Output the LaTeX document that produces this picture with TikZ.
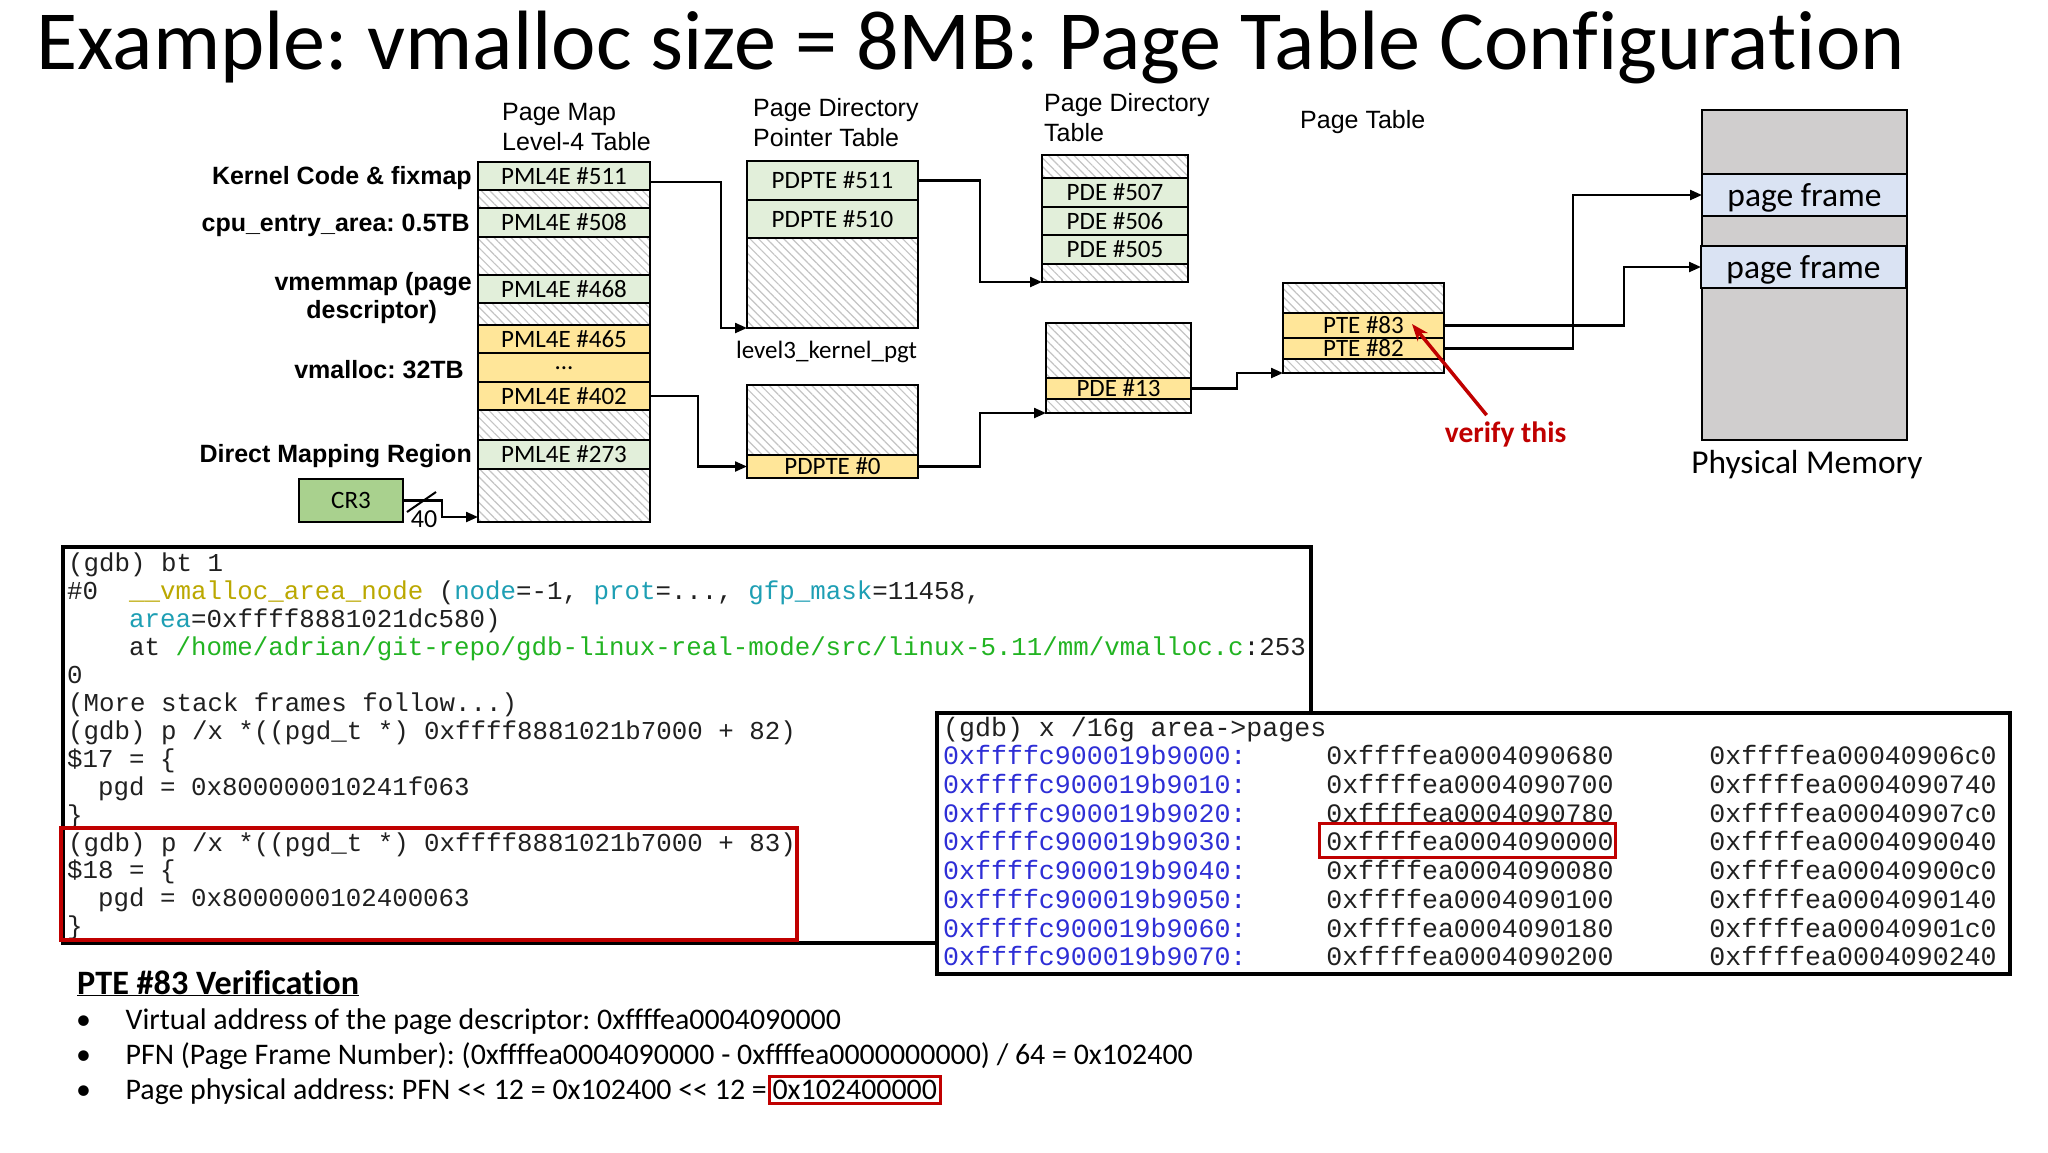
\documentclass[tikz,border=0pt]{standalone}
\usepackage{fontspec}
\setmainfont{Carlito}[Ligatures={TeX,NoCommon}]
\newfontfamily\arialf{Liberation Sans}
\newfontfamily\monof{Liberation Mono}
\usetikzlibrary{arrows.meta,patterns.meta}
\frenchspacing
\newcommand\setfs[1]{\fontsize{#1pt}{#1pt}\selectfont}
\definecolor{entgreen}{HTML}{E2EFDA}
\definecolor{entyellow}{HTML}{FFE699}
\definecolor{crgreen}{HTML}{A9D18E}
\definecolor{memgray}{HTML}{D0CECE}
\definecolor{pfblue}{HTML}{DAE3F3}
\definecolor{hatchgray}{HTML}{C4C4C4}
\definecolor{darkred}{HTML}{C00000}
\definecolor{gdbolive}{HTML}{BBA800}
\definecolor{gdbcyan}{HTML}{1E9FB4}
\definecolor{gdbgreen}{HTML}{22B422}
\definecolor{gdbblue}{HTML}{2E2ED6}
\definecolor{gdbtext}{HTML}{202020}
\tikzset{
  cell/.style={draw=black, line width=2.2pt, inner sep=0pt, outer sep=0pt, anchor=north west, font=\setfs{25}},
  gcell/.style={cell, fill=entgreen},
  ycell/.style={cell, fill=entyellow},
  hcell/.style={cell, pattern={Lines[angle=-45,distance=6pt,line width=1.2pt]}, pattern color=hatchgray},
  conn/.style={line width=2.2pt, -{Triangle[length=12pt,width=10pt]}},
  hdr/.style={font=\arialf\setfs{25}, inner sep=0pt, anchor=base west},
  lbl/.style={font=\arialf\bfseries\setfs{25}, inner sep=0pt, anchor=base east},
  gdbA/.style={font=\monof\setfs{25.8}, inner sep=0pt, anchor=base west, text=gdbtext},
  gdbB/.style={font=\monof\setfs{26.6}, inner sep=0pt, anchor=base west, text=gdbtext},
  gdbframe/.style={draw=black, line width=4pt, inner sep=0pt, outer sep=0pt, anchor=north west},
  redbox/.style={draw=darkred, line width=3.5pt},
  body/.style={font=\setfs{29.9}, inner sep=0pt, anchor=base west},
  pfcell/.style={cell, fill=pfblue, font=\setfs{33.5}, text depth=0pt, text height=22pt},
}
\newcommand\cellnode[7]{\node[#1, minimum width=#5pt, minimum height=#6pt] (#2) at (#3,#4) {#7};}
\newcommand\ca[1]{\textcolor{gdbcyan}{#1}}
\newcommand\cb[1]{\textcolor{gdbblue}{#1}}
\begin{document}
\begin{tikzpicture}[x=1pt,y=-1pt]
\useasboundingbox (0,0) rectangle (2048,1152);
\fill[white] (0,0) rectangle (2048,1152);

% title
\node[font=\setfs{84.2}, inner sep=0pt, anchor=base west] (title) at (36.6,69) {Example: vmalloc size = 8MB: Page Table Configuration};

% headers
\node[hdr] (hpm1) at (502,120) {Page Map};
\node[hdr] (hpm2) at (502,150) {Level-4 Table};
\node[hdr] (hpp1) at (753,116) {Page Directory};
\node[hdr] (hpp2) at (753,146) {Pointer Table};
\node[hdr] (hpd1) at (1044,111) {Page Directory};
\node[hdr] (hpd2) at (1044,141) {Table};
\node[hdr] (hpt) at (1300,128) {Page Table};

% left labels
\node[lbl] (lk) at (472,184) {Kernel Code \& fixmap};
\node[lbl] (lc) at (470,231) {cpu\_entry\_area: 0.5TB};
\node[lbl] (lv1) at (472,290) {vmemmap (page};
\node[lbl, anchor=base] (lv2) at (371.7,318.5) {descriptor)};
\node[lbl] (lva) at (464,378.6) {vmalloc: 32TB};
\node[lbl] (ld) at (472,462) {Direct Mapping Region};

% PML4 table
\cellnode{gcell}{p511}{478}{162}{172}{28}{PML4E \#511}
\cellnode{hcell}{ph1}{478}{190}{172}{18}{}
\cellnode{gcell}{p508}{478}{208}{172}{29}{PML4E \#508}
\cellnode{hcell}{ph2}{478}{237}{172}{38}{}
\cellnode{gcell}{p468}{478}{275}{172}{28}{PML4E \#468}
\cellnode{hcell}{ph3}{478}{303}{172}{22}{}
\cellnode{ycell}{p465}{478}{325}{172}{28}{PML4E \#465}
\cellnode{ycell}{pdots}{478}{353}{172}{29}{\raisebox{-5pt}{...}}
\cellnode{ycell}{p402}{478}{382}{172}{28}{PML4E \#402}
\cellnode{hcell}{ph4}{478}{410}{172}{30}{}
\cellnode{gcell}{p273}{478}{440}{172}{29}{PML4E \#273}
\cellnode{hcell}{ph5}{478}{469}{172}{53}{}

% PDPT tables
\cellnode{gcell}{d511}{747}{161}{171}{39}{PDPTE \#511}
\cellnode{gcell}{d510}{747}{200}{171}{38}{PDPTE \#510}
\cellnode{hcell}{dh1}{747}{238}{171}{90}{}
\node[font=\setfs{25}, inner sep=0pt, anchor=base] (l3k) at (826.5,358) {level3\_kernel\_pgt};
\cellnode{hcell}{dh2}{747}{385}{171}{70}{}
\cellnode{ycell}{d0}{747}{455}{171}{23}{PDPTE \#0}

% PD tables
\cellnode{hcell}{eh1}{1042}{155}{146}{23}{}
\cellnode{gcell}{e507}{1042}{178}{146}{29}{PDE \#507}
\cellnode{gcell}{e506}{1042}{207}{146}{28}{PDE \#506}
\cellnode{gcell}{e505}{1042}{235}{146}{29}{PDE \#505}
\cellnode{hcell}{eh2}{1042}{264}{146}{18}{}
\cellnode{hcell}{eh3}{1046}{323}{145}{55}{}
\cellnode{ycell}{e13}{1046}{378}{145}{21}{PDE \#13}
\cellnode{hcell}{eh4}{1046}{399}{145}{14}{}

% PT
\cellnode{hcell}{th1}{1283}{283}{161}{30}{}
\cellnode{ycell}{t83}{1283}{313}{161}{25}{PTE \#83}
\cellnode{ycell}{t82}{1283}{338}{161}{21}{PTE \#82}
\cellnode{hcell}{th2}{1283}{359}{161}{14}{}

% physical memory
\cellnode{cell,fill=memgray}{mem}{1702}{110}{205}{330}{}
\cellnode{pfcell}{pf1}{1702}{174}{205}{42}{page frame}
\cellnode{pfcell}{pf2}{1701}{246}{205}{42}{page frame}
\node[font=\setfs{33.4}, inner sep=0pt, anchor=base] (pmlab) at (1807,473) {Physical Memory};

% CR3
\cellnode{cell,fill=crgreen}{cr3}{299}{479}{104}{43}{CR3}
\coordinate (b0) at (442,0);
\draw[conn] (cr3.east) -- (cr3.east -| b0) |- ([yshift=5pt]ph5.south west);
\draw[line width=2pt] (407,512) -- (436,492);
\node[font=\setfs{26}, inner sep=0pt] (n40) at (424,519) {40};

% connectors
\coordinate (b1) at (721,0);
\coordinate (b2) at (698,0);
\coordinate (b3) at (980,0);
\coordinate (b4) at (1237,0);
\coordinate (b5) at (1624,0);
\coordinate (b6) at (1573,0);
\coordinate (s1) at ([yshift=-6pt]p511.east);
\draw[conn] (s1) -- (s1 -| b1) |- (dh1.south west);
\draw[conn] (p402.east) -- (p402.east -| b2) |- (d0.west);
\draw[conn] (d511.east) -- (d511.east -| b3) |- (eh2.south west);
\draw[conn] (d0.east) -- (d0.east -| b3) |- (eh4.south west);
\draw[conn] (e13.east) -- (e13.east -| b4) |- (th2.south west);
\draw[conn] (t83.east) -- (t83.east -| b5) |- (pf2.west);
\draw[conn] (t82.east) -- (t82.east -| b6) |- (pf1.west);

% verify this
\node[font=\bfseries\setfs{29.5}, text=darkred, inner sep=0pt, anchor=base] (verify) at (1505.6,442) {verify this};
\coordinate (vtip) at (1412,324);
\draw[line width=3.5pt, darkred, -{Stealth[length=17pt,width=13pt]}] ([xshift=-19pt,yshift=6pt]verify.north) -- (vtip);

% gdb box 1
\node[gdbframe, minimum width=1248pt, minimum height=396pt] (gdb1) at (63,547) {};
\node[gdbA] (g1) at (68,571.5) {(gdb) bt 1};
\node[gdbA] (g2) at (67,599.45) {\#0~~\textcolor{gdbolive}{\_\_vmalloc\_area\_node} (\ca{node}=-1, \ca{prot}=..., \ca{gfp\_mask}=11458,};
\node[gdbA] (g3) at (67,627.4) {~~~~\ca{area}=0xffff8881021dc580)};
\node[gdbA] (g4) at (67,655.35) {~~~~at \textcolor{gdbgreen}{/home/adrian/git-repo/gdb-linux-real-mode/src/linux-5.11/mm/vmalloc.c}:253};
\node[gdbA] (g5) at (67,683.3) {0};
\node[gdbA] (g6) at (68,711.25) {(More stack frames follow...)};
\node[gdbA] (g7) at (68,739.2) {(gdb) p /x *((pgd\_t *) 0xffff8881021b7000 + 82)};
\node[gdbA] (g8) at (67,767.15) {\$17 = \{};
\node[gdbA] (g9) at (67,795.1) {~~pgd = 0x800000010241f063};
\node[gdbA] (g10) at (67,823.05) {\}};
\node[gdbA] (g11) at (68,851) {(gdb) p /x *((pgd\_t *) 0xffff8881021b7000 + 83)};
\node[gdbA] (g12) at (67,878.95) {\$18 = \{};
\node[gdbA] (g13) at (67,906.9) {~~pgd = 0x8000000102400063};
\node[gdbA] (g14) at (67,934.85) {\}};
\draw[redbox] (61,828) rectangle (797,940);

% gdb box 2
\node[gdbframe, fill=white, minimum width=1073pt, minimum height=261pt] (gdb2) at (937,713) {};
\node[gdbB] (h1) at (943,736) {(gdb) x /16g area->pages};
\node[gdbB] (h2) at (943,764.73) {\cb{0xffffc900019b9000:}~~~~~0xffffea0004090680~~~~~~0xffffea00040906c0};
\node[gdbB] (h3) at (943,793.46) {\cb{0xffffc900019b9010:}~~~~~0xffffea0004090700~~~~~~0xffffea0004090740};
\node[gdbB] (h4) at (943,822.19) {\cb{0xffffc900019b9020:}~~~~~0xffffea0004090780~~~~~~0xffffea00040907c0};
\node[gdbB] (h5) at (943,850.92) {\cb{0xffffc900019b9030:}~~~~~0xffffea0004090000~~~~~~0xffffea0004090040};
\node[gdbB] (h6) at (943,879.65) {\cb{0xffffc900019b9040:}~~~~~0xffffea0004090080~~~~~~0xffffea00040900c0};
\node[gdbB] (h7) at (943,908.38) {\cb{0xffffc900019b9050:}~~~~~0xffffea0004090100~~~~~~0xffffea0004090140};
\node[gdbB] (h8) at (943,937.11) {\cb{0xffffc900019b9060:}~~~~~0xffffea0004090180~~~~~~0xffffea00040901c0};
\node[gdbB] (h9) at (943,965.84) {\cb{0xffffc900019b9070:}~~~~~0xffffea0004090200~~~~~~0xffffea0004090240};
\draw[redbox] (1319.5,823.5) rectangle (1615.6,857.5);

% verification text
\node[font=\bfseries\setfs{34.2}, inner sep=0pt, anchor=base west] (vhead) at (77,994) {\underline{PTE \#83 Verification}};
\node[body] (bu1) at (76,1029.5) {\textbullet};
\node[body] (bu2) at (76,1064.5) {\textbullet};
\node[body] (bu3) at (76,1099.5) {\textbullet};
\node[body] (t1) at (125.4,1029.5) {Virtual address of the page descriptor: 0xffffea0004090000};
\node[body] (t2) at (125.4,1064.5) {PFN (Page Frame Number): (0xffffea0004090000 - 0xffffea0000000000) / 64 = 0x102400};
\node[body] (t3) at (125.4,1099.5) {Page physical address: PFN <\kern0pt< 12 = 0x102400 <\kern0pt< 12 =};
\node[body, draw=darkred, line width=3pt, inner xsep=3pt, inner ysep=4pt, text height=19pt, text depth=0pt, anchor=base west] (t3box) at ([xshift=1pt]t3.base east) {0x102400000};
\end{tikzpicture}
\end{document}
